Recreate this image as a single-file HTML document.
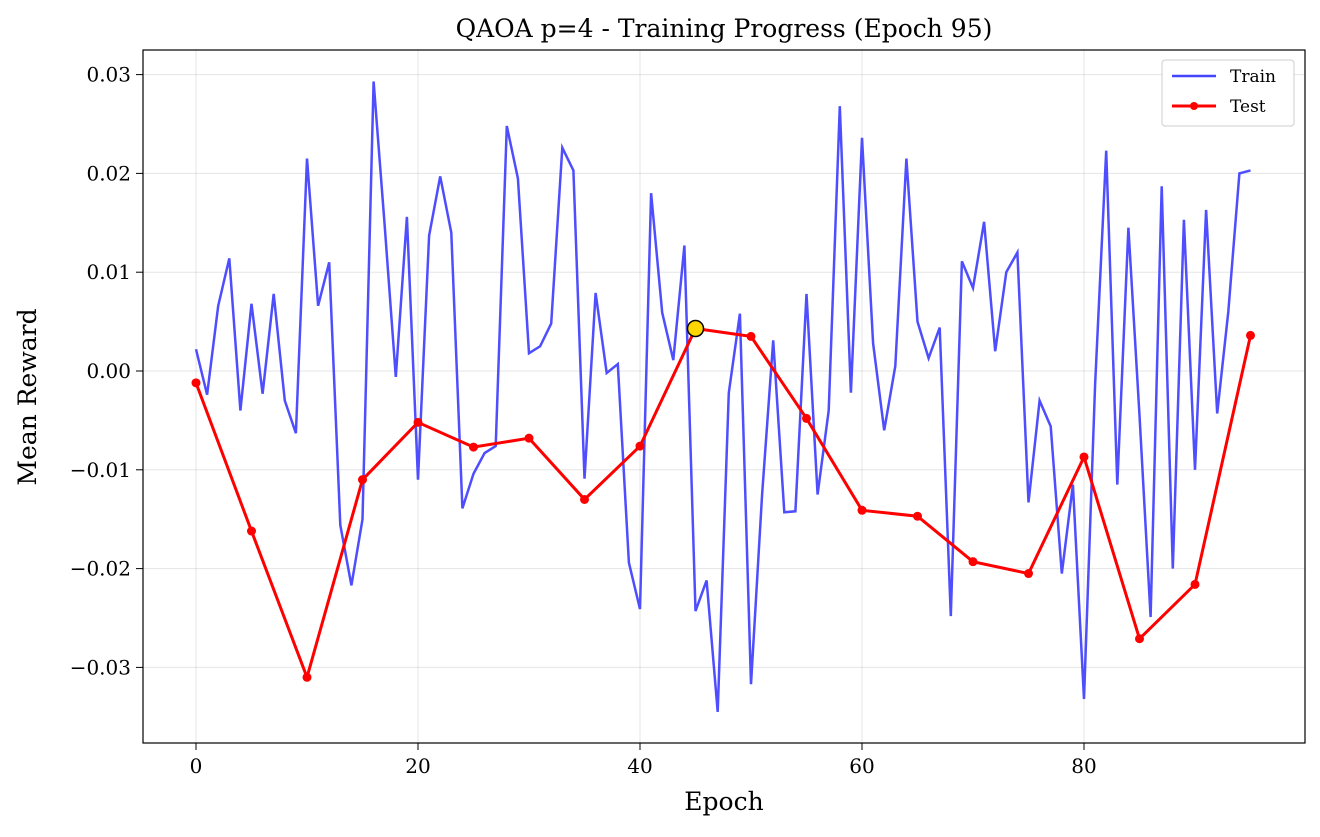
<!DOCTYPE html>
<html><head><meta charset="utf-8"><style>
body{margin:0;background:#fff;}
text{font-family:"DejaVu Serif","Liberation Serif",serif;fill:#000;}
</style></head><body>
<svg id="chart" width="1320" height="832" xmlns="http://www.w3.org/2000/svg">
<rect width="1320" height="832" fill="#fff"/>
<g id="grid"></g><g id="axes"></g><g id="series"></g>
<rect x="143" y="50" width="1162" height="693" fill="none" stroke="#000" stroke-width="1.2"/>
<text x="724" y="37" font-size="25" text-anchor="middle">QAOA p=4 - Training Progress (Epoch 95)</text>
<text x="724" y="810" font-size="25" text-anchor="middle">Epoch</text>
<text transform="translate(36,397) rotate(-90)" font-size="25" text-anchor="middle">Mean Reward</text>
<g>
<rect x="1162" y="60" width="132" height="66" rx="3" fill="#fff" stroke="#ccc"/>
<line x1="1172" y1="76" x2="1216" y2="76" stroke="#4444ff" stroke-width="2.5"/>
<text x="1230" y="82" font-size="17">Train</text>
<line x1="1172" y1="106" x2="1216" y2="106" stroke="#ff0000" stroke-width="3"/>
<circle cx="1194" cy="106" r="4" fill="#ff0000"/>
<text x="1230" y="112" font-size="17">Test</text>
</g>
</svg>
<script>
const trainValues=[0.0022,-0.0024,0.0066,0.0114,-0.004,0.0068,-0.0023,0.0078,-0.003,-0.0063,0.0215,0.0066,0.011,-0.0156,-0.0217,-0.015,0.0293,0.0147,-0.0006,0.0156,-0.011,0.0137,0.0197,0.014,-0.0139,-0.0104,-0.0083,-0.0076,0.0248,0.0195,0.0018,0.0025,0.0048,0.0226,0.0203,-0.0109,0.0079,-0.0002,0.0007,-0.0194,-0.0241,0.018,0.0059,0.0011,0.0127,-0.0243,-0.0212,-0.0345,-0.0022,0.0058,-0.0317,-0.0125,0.0031,-0.0143,-0.0142,0.0078,-0.0125,-0.004,0.0268,-0.0022,0.0236,0.0028,-0.006,0.0005,0.0215,0.005,0.0013,0.0044,-0.0248,0.0111,0.0084,0.0151,0.002,0.01,0.012,-0.0133,-0.003,-0.0056,-0.0205,-0.0115,-0.0332,-0.0014,0.0223,-0.0115,0.0145,-0.0045,-0.0249,0.0187,-0.02,0.0153,-0.01,0.0163,-0.0043,0.006,0.02,0.0203];
const testEpochs=[0,5,10,15,20,25,30,35,40,45,50,55,60,65,70,75,80,85,90,95];
const testValues=[-0.0012,-0.0162,-0.031,-0.011,-0.0052,-0.0077,-0.0068,-0.013,-0.0076,0.0043,0.0035,-0.0048,-0.0141,-0.0147,-0.0193,-0.0205,-0.0087,-0.0271,-0.0216,0.0036];
const xTicks=[0,20,40,60,80];
const yTicks=[0.03,0.02,0.01,0,-0.01,-0.02,-0.03];
const yTickLabels=["0.03","0.02","0.01","0.00","\u22120.01","\u22120.02","\u22120.03"];
const bestEpoch=45;
const NS="http://www.w3.org/2000/svg";
const X=e=>196+e*11.1, Y=v=>371-v*9880;
function mk(t,a,p){const el=document.createElementNS(NS,t);for(const k in a)el.setAttribute(k,a[k]);p.appendChild(el);return el;}
const grid=document.getElementById('grid'),axes=document.getElementById('axes'),ser=document.getElementById('series');
xTicks.forEach(t=>{
 const g=mk('line',{x1:X(t),x2:X(t),y1:50,y2:743,stroke:'#000','stroke-opacity':0.1},grid);
 
 
 mk('line',{x1:X(t),x2:X(t),y1:743,y2:750,stroke:'#000'},axes);
 const l=mk('text',{x:X(t),y:773,'font-size':20,'text-anchor':'middle'},axes);l.textContent=t;
 
 
});
yTicks.forEach((t,i)=>{
 const g=mk('line',{x1:143,x2:1305,y1:Y(t),y2:Y(t),stroke:'#000','stroke-opacity':0.1},grid);
 
 
 mk('line',{x1:136,x2:143,y1:Y(t),y2:Y(t),stroke:'#000'},axes);
 const l=mk('text',{x:131,y:Y(t)+7,'font-size':20,'text-anchor':'end'},axes);l.textContent=yTickLabels[i];
 
 
});
const tp=mk('polyline',{points:trainValues.map((v,i)=>X(i)+','+Y(v)).join(' '),fill:'none',stroke:'#4444ff','stroke-width':2.5,'stroke-opacity':0.95},ser);


const sp=mk('polyline',{points:testValues.map((v,i)=>X(testEpochs[i])+','+Y(v)).join(' '),fill:'none',stroke:'#ff0000','stroke-width':3},ser);


testValues.forEach((v,i)=>{
 const c=mk('circle',{cx:X(testEpochs[i]),cy:Y(v),r:4.5,fill:'#ff0000'},ser);
 
 
});
const bi=testEpochs.indexOf(bestEpoch);
const b=mk('circle',{cx:X(bestEpoch),cy:Y(testValues[bi]),r:8,fill:'#ffd700',stroke:'#000','stroke-width':1.5},ser);


</script>
</body></html>
